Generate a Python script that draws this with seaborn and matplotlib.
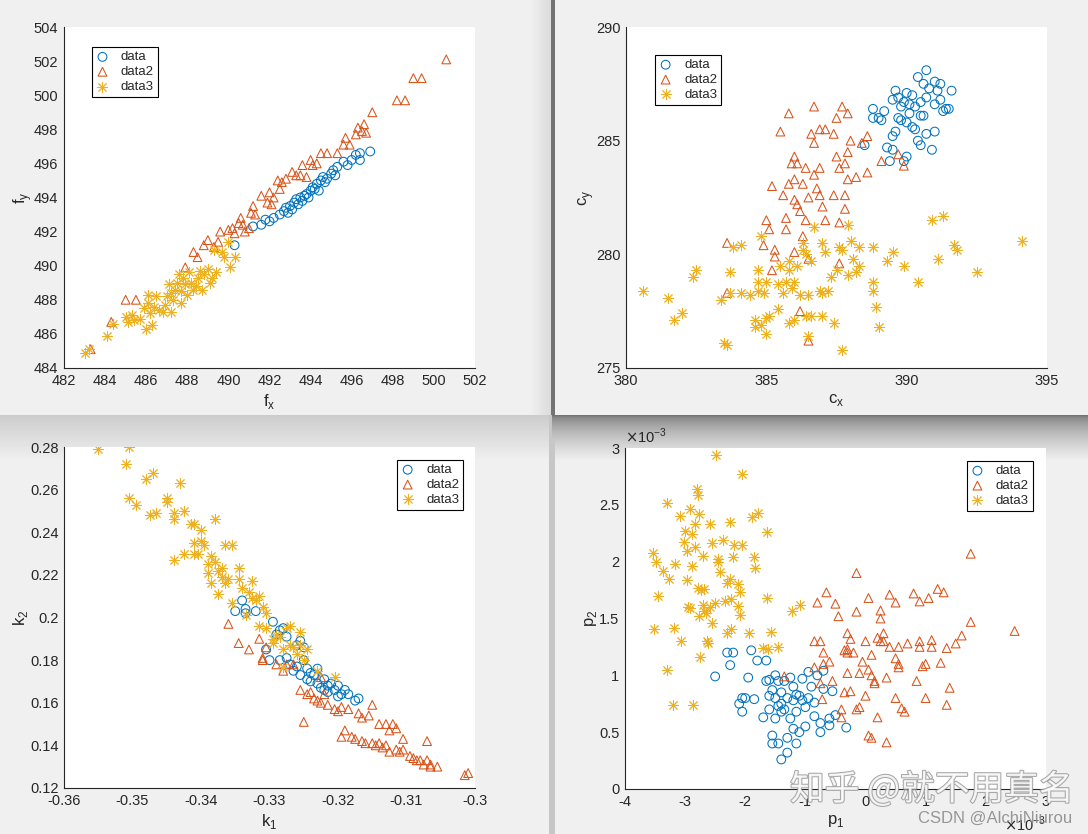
import numpy as np
import pandas as pd
import matplotlib
matplotlib.use("Agg")
import matplotlib.pyplot as plt
import matplotlib.patheffects as pe
from matplotlib.ticker import FuncFormatter, MultipleLocator
import seaborn as sns

# ---- panel 1: f_x / f_y
f1_x = [490.3, 491.2, 491.6, 491.8, 492.0, 492.2, 492.5, 492.7, 492.9, 493.0, 493.2, 493.3, 493.4,
        493.5, 493.6, 493.7, 493.8, 493.9, 494.0, 494.1, 494.2, 494.3, 494.4, 494.5, 494.6, 494.7,
        494.8, 495.0, 495.1, 495.2, 495.3, 495.6, 495.8, 496.0, 496.2, 496.4, 496.4, 496.9, 492.8, 493.1]
f1_y = [491.2, 492.3, 492.4, 492.7, 492.6, 492.8, 493.0, 493.2, 493.1, 493.5, 493.7, 493.9, 493.6,
        494.0, 493.8, 494.1, 494.2, 494.0, 494.4, 494.6, 494.5, 494.8, 494.4, 495.0, 495.2, 494.9,
        495.1, 495.4, 495.6, 495.3, 495.8, 496.1, 495.9, 496.2, 496.5, 496.6, 496.2, 496.7, 493.4, 493.3]
f2_x = [483.3, 484.3, 485.0, 485.5, 487.9, 488.3, 488.5, 488.8, 489.0, 489.3, 489.5, 489.6, 490.0,
        490.2, 490.3, 490.5, 490.6, 490.8, 491.0, 491.1, 491.3, 491.2, 491.6, 491.9, 492.0, 492.2,
        492.4, 492.5, 492.6, 492.8, 493.1, 493.3, 493.5, 493.6, 493.8, 494.0, 494.1, 494.3, 494.5,
        494.8, 495.3, 495.6, 495.7, 495.9, 496.2, 496.3, 496.5, 496.6, 496.7, 497.0, 498.2, 498.6,
        499.0, 499.4, 500.6, 492.1, 490.7]
f2_y = [485.1, 486.7, 488.0, 488.0, 489.9, 490.8, 490.5, 491.2, 491.5, 491.1, 491.4, 492.0, 492.1,
        492.2, 491.9, 492.5, 492.8, 492.0, 492.2, 493.1, 493.0, 493.5, 494.1, 493.7, 494.3, 494.0,
        495.0, 494.5, 494.9, 495.1, 495.5, 495.3, 495.3, 495.9, 495.2, 496.2, 495.9, 496.0, 496.6,
        496.6, 496.6, 497.1, 497.5, 497.1, 497.7, 498.1, 497.9, 498.3, 497.8, 499.0, 499.7, 499.7,
        501.0, 501.0, 502.1, 493.6, 492.4]
f3_x = [483.0, 483.2, 484.1, 484.4, 485.0, 485.1, 485.3, 485.4, 485.7, 485.9, 486.0, 486.1, 486.1,
        486.2, 486.3, 486.4, 486.5, 486.6, 486.8, 487.0, 487.1, 487.2, 487.2, 487.4, 487.5, 487.6,
        487.7, 487.7, 487.8, 487.9, 488.0, 488.1, 488.2, 488.3, 488.5, 488.7, 488.8, 489.0, 489.2,
        489.3, 489.4, 489.7, 489.8, 490.0, 490.1, 490.3, 488.6, 487.3, 486.9, 488.4, 489.1]
f3_y = [484.9, 485.1, 485.9, 486.6, 487.0, 486.7, 487.1, 486.8, 486.9, 487.5, 486.3, 487.8, 488.3,
        487.2, 486.5, 487.6, 488.2, 487.4, 487.3, 488.2, 488.9, 487.3, 488.4, 488.6, 489.0, 489.5,
        487.8, 488.5, 489.3, 488.9, 488.3, 489.6, 489.0, 488.6, 489.3, 488.6, 489.5, 489.8, 489.3,
        490.9, 489.6, 490.8, 490.5, 491.4, 489.9, 490.5, 489.7, 488.0, 487.7, 488.8, 489.0]

# ---- panel 2: c_x / c_y
c1_x = [388.5, 388.8, 388.8, 389.0, 389.1, 389.2, 389.3, 389.4, 389.5, 389.5, 389.6, 389.6, 389.7,
        389.8, 389.8, 389.9, 389.9, 390.0, 390.0, 390.0, 390.1, 390.2, 390.2, 390.3, 390.4, 390.4,
        390.5, 390.5, 390.6, 390.6, 390.7, 390.7, 390.7, 390.8, 390.9, 391.0, 391.0, 391.0, 391.1,
        391.2, 391.3, 391.4, 391.5, 391.6, 391.2, 390.1, 389.7, 390.3, 389.5, 390.5]
c1_y = [284.8, 286.4, 286.0, 286.0, 285.9, 286.3, 284.7, 284.1, 285.2, 286.8, 287.2, 285.4, 286.9,
        286.5, 285.9, 284.1, 286.7, 285.8, 287.1, 284.3, 286.2, 287.0, 285.6, 286.5, 285.0, 287.8,
        286.7, 284.8, 287.5, 286.1, 286.9, 285.3, 288.1, 287.3, 284.6, 286.6, 287.6, 285.4, 287.2,
        286.8, 286.3, 286.4, 286.4, 287.2, 287.5, 286.6, 286.0, 285.5, 284.6, 286.1]
c2_x = [383.6, 383.6, 384.9, 385.0, 385.1, 385.2, 385.3, 385.3, 385.2, 385.5, 385.6, 385.7, 385.7,
        385.8, 385.8, 385.9, 386.0, 386.0, 386.0, 386.0, 386.1, 386.2, 386.2, 386.3, 386.3, 386.4,
        386.4, 386.5, 386.5, 386.5, 386.6, 386.7, 386.7, 386.7, 386.8, 386.9, 386.9, 386.9, 387.0,
        387.1, 387.1, 387.4, 387.4, 387.5, 387.5, 387.6, 387.6, 387.6, 387.7, 387.8, 387.8, 387.8,
        387.9, 387.9, 387.9, 388.0, 388.2, 388.4, 388.6, 388.6, 389.1, 389.7, 389.9, 386.1]
c2_y = [280.5, 278.3, 280.4, 281.5, 281.1, 279.3, 280.2, 279.9, 283.0, 285.4, 282.6, 281.1, 281.6,
        286.2, 283.1, 284.0, 284.3, 282.4, 283.3, 280.1, 282.2, 281.9, 277.5, 283.1, 280.8, 283.8,
        281.5, 282.5, 279.8, 276.2, 285.3, 286.5, 284.9, 283.5, 282.9, 283.8, 285.5, 282.6, 282.1,
        285.5, 281.5, 282.6, 285.3, 286.0, 284.3, 281.4, 283.8, 279.6, 286.5, 284.0, 282.0, 282.6,
        284.5, 283.3, 286.2, 285.0, 283.4, 284.9, 283.6, 285.2, 284.1, 284.4, 283.9, 284.0]
c3_x = [380.6, 381.5, 381.7, 382.0, 382.4, 382.5, 383.4, 383.5, 383.6, 383.7, 383.7, 383.8, 384.1,
        384.1, 384.4, 384.6, 384.6, 384.7, 384.7, 384.7, 384.8, 384.8, 384.9, 385.0, 385.0, 385.1,
        385.0, 385.4, 385.4, 385.5, 385.6, 385.7, 385.8, 385.8, 385.8, 385.9, 386.0, 386.0, 386.1,
        386.2, 386.3, 386.4, 386.4, 386.5, 386.5, 386.6, 386.6, 386.7, 386.9, 387.0, 387.0, 387.1,
        387.0, 387.2, 387.3, 387.4, 387.5, 387.6, 387.7, 387.7, 387.9, 387.9, 388.0, 388.1, 388.2,
        388.3, 388.3, 388.8, 388.8, 388.8, 388.9, 389.0, 389.3, 389.5, 389.9, 390.4, 390.9, 391.1,
        391.3, 391.7, 391.8, 392.5, 394.1, 386.3]
c3_y = [278.4, 278.1, 277.1, 277.4, 279.0, 279.3, 278.0, 276.1, 276.0, 278.3, 279.2, 280.3, 280.4,
        278.3, 278.2, 277.1, 276.8, 279.3, 278.8, 278.4, 280.8, 276.9, 278.3, 277.2, 276.5, 277.3,
        278.8, 278.7, 277.6, 279.5, 278.3, 278.8, 279.7, 279.3, 277.0, 278.5, 278.8, 277.1, 279.5,
        278.2, 280.5, 280.0, 277.3, 278.2, 276.4, 277.3, 279.7, 281.2, 278.4, 280.5, 278.3, 280.1,
        277.3, 278.4, 279.0, 277.0, 279.3, 280.3, 275.8, 280.2, 281.3, 279.1, 280.6, 279.8, 279.2,
        280.3, 279.5, 280.3, 278.8, 278.4, 277.7, 276.8, 279.7, 280.1, 279.5, 278.8, 281.5, 279.8,
        281.7, 280.4, 280.2, 279.2, 280.6, 280.2]

# ---- panel 3: k_1 / k_2
k1_a = [-0.335, -0.334, -0.3335, -0.3335, -0.332, -0.3305, -0.330, -0.3295, -0.329, -0.3285, -0.328,
        -0.3275, -0.3275, -0.327, -0.3265, -0.326, -0.3255, -0.3255, -0.325, -0.325, -0.3245, -0.3245,
        -0.324, -0.324, -0.3235, -0.323, -0.323, -0.3225, -0.322, -0.3215, -0.3215, -0.321, -0.3205,
        -0.320, -0.320, -0.3195, -0.319, -0.3185, -0.3175, -0.317, -0.326, -0.3285, -0.322]
k2_a = [0.203, 0.208, 0.204, 0.202, 0.203, 0.185, 0.180, 0.198, 0.192, 0.180, 0.195, 0.191, 0.181,
        0.178, 0.175, 0.177, 0.189, 0.173, 0.186, 0.180, 0.176, 0.171, 0.174, 0.170, 0.173, 0.169,
        0.176, 0.167, 0.171, 0.168, 0.165, 0.169, 0.166, 0.163, 0.168, 0.164, 0.166, 0.164, 0.161,
        0.162, 0.187, 0.194, 0.166]
k1_b = [-0.336, -0.3345, -0.333, -0.3315, -0.331, -0.331, -0.3305, -0.329, -0.328, -0.3275, -0.3255,
        -0.325, -0.3245, -0.324, -0.3235, -0.323, -0.3225, -0.322, -0.3215, -0.3205, -0.320, -0.3195,
        -0.3195, -0.319, -0.3185, -0.318, -0.3175, -0.317, -0.3165, -0.3165, -0.316, -0.3155, -0.315,
        -0.315, -0.3145, -0.314, -0.314, -0.3135, -0.313, -0.313, -0.3125, -0.3125, -0.312, -0.3115,
        -0.3115, -0.311, -0.3105, -0.3105, -0.3095, -0.309, -0.3085, -0.308, -0.3075, -0.307, -0.307,
        -0.3065, -0.3065, -0.3055, -0.3015, -0.301, -0.3265, -0.3225]
k2_b = [0.197, 0.188, 0.185, 0.190, 0.180, 0.181, 0.186, 0.178, 0.175, 0.178, 0.166, 0.151, 0.164,
        0.165, 0.162, 0.161, 0.160, 0.164, 0.159, 0.157, 0.156, 0.158, 0.144, 0.147, 0.157, 0.144,
        0.143, 0.155, 0.142, 0.153, 0.141, 0.154, 0.141, 0.159, 0.140, 0.141, 0.150, 0.139, 0.150,
        0.140, 0.147, 0.137, 0.150, 0.148, 0.138, 0.137, 0.138, 0.143, 0.135, 0.134, 0.133, 0.133,
        0.131, 0.133, 0.142, 0.131, 0.130, 0.130, 0.126, 0.127, 0.178, 0.172]
k1_c = [-0.355, -0.351, -0.3505, -0.3505, -0.3495, -0.348, -0.3475, -0.347, -0.3465, -0.345, -0.345,
        -0.344, -0.344, -0.344, -0.343, -0.3425, -0.3425, -0.3415, -0.341, -0.341, -0.341, -0.3405,
        -0.340, -0.340, -0.3395, -0.339, -0.339, -0.3385, -0.3385, -0.338, -0.338, -0.3375, -0.3375,
        -0.337, -0.337, -0.336, -0.3365, -0.3355, -0.3355, -0.3345, -0.3345, -0.334, -0.3335, -0.333,
        -0.3325, -0.332, -0.3315, -0.331, -0.3315, -0.3305, -0.3305, -0.3295, -0.329, -0.3285, -0.328,
        -0.3275, -0.327, -0.327, -0.3265, -0.326, -0.3255, -0.3255, -0.325, -0.3245, -0.323, -0.3205,
        -0.328, -0.3295, -0.3325, -0.3365]
k2_c = [0.279, 0.272, 0.280, 0.256, 0.253, 0.265, 0.248, 0.268, 0.249, 0.256, 0.254, 0.246, 0.249,
        0.227, 0.263, 0.250, 0.230, 0.244, 0.235, 0.244, 0.230, 0.230, 0.236, 0.241, 0.234, 0.221,
        0.225, 0.229, 0.216, 0.246, 0.226, 0.222, 0.211, 0.219, 0.223, 0.218, 0.234, 0.234, 0.207,
        0.223, 0.218, 0.214, 0.201, 0.212, 0.217, 0.208, 0.210, 0.205, 0.196, 0.202, 0.195, 0.190,
        0.192, 0.191, 0.185, 0.195, 0.196, 0.187, 0.186, 0.183, 0.193, 0.187, 0.180, 0.185, 0.175,
        0.172, 0.177, 0.188, 0.209, 0.216]

# ---- panel 4: p_1 / p_2  (values in units of 1e-3)
p1_a = [-2.5, -2.3, -2.25, -2.2, -2.1, -2.05, -2.0, -2.05, -1.95, -1.9, -1.85, -1.8, -1.7, -1.65,
        -1.65, -1.6, -1.6, -1.55, -1.55, -1.55, -1.5, -1.5, -1.5, -1.45, -1.45, -1.45, -1.4, -1.4,
        -1.35, -1.3, -1.3, -1.3, -1.4, -1.25, -1.25, -1.2, -1.2, -1.15, -1.15, -1.15, -1.1, -1.05,
        -1.05, -1.0, -1.0, -0.95, -0.95, -0.9, -0.85, -0.85, -0.75, -0.75, -0.7, -0.7, -0.6, -0.6,
        -0.5, -0.55, -0.32, -0.8, -1.35, -1.2, -1.1, -1.6, -1.4]
p2_a = [0.99, 1.2, 1.09, 1.2, 0.75, 0.8, 0.8, 0.68, 0.98, 1.22, 0.79, 1.13, 0.63, 1.13, 0.95, 0.82,
        0.7, 0.4, 0.47, 0.87, 1.0, 0.62, 0.8, 0.73, 0.4, 0.95, 0.85, 0.75, 0.7, 0.45, 0.8, 0.32,
        0.26, 0.98, 0.62, 0.9, 0.53, 0.4, 0.68, 0.83, 0.5, 0.78, 0.97, 0.72, 0.55, 1.03, 0.8, 0.9,
        0.64, 0.76, 0.58, 0.5, 1.04, 0.88, 0.56, 0.62, 0.65, 0.86, 0.54, 1.0, 0.95, 0.78, 0.82,
        0.96, 0.68]
p1_b = [-1.35, -0.85, -0.85, -0.8, -0.75, -0.75, -0.72, -0.7, -0.7, -0.65, -0.6, -0.55, -0.5, -0.45,
        -0.4, -0.4, -0.35, -0.3, -0.3, -0.3, -0.25, -0.25, -0.2, -0.15, -0.15, -0.15, -0.1, -0.05,
        0.0, 0.0, 0.05, 0.05, 0.05, 0.1, 0.1, 0.15, 0.15, 0.2, 0.2, 0.25, 0.25, 0.25, 0.3, 0.35,
        0.35, 0.4, 0.4, 0.5, 0.5, 0.5, 0.55, 0.55, 0.55, 0.6, 0.65, 0.7, 0.8, 0.85, 0.9, 0.9, 0.9,
        0.95, 1.0, 1.0, 1.05, 1.1, 1.1, 1.2, 1.25, 1.3, 1.35, 1.35, 1.4, 1.5, 1.6, 1.75, 1.75, 2.48,
        -0.35, -0.3, 0.1, 0.3, -0.1]
p2_b = [0.99, 1.3, 1.07, 1.64, 1.3, 0.93, 0.79, 1.2, 1.1, 1.73, 1.12, 0.95, 1.63, 1.52, 0.7, 0.63,
        0.85, 1.37, 1.2, 1.02, 1.32, 0.86, 1.2, 1.56, 0.7, 1.9, 1.02, 1.12, 1.3, 0.82, 1.05, 1.68,
        0.47, 0.45, 1.0, 0.93, 0.95, 1.33, 0.63, 1.57, 1.5, 1.3, 1.37, 0.98, 0.41, 1.71, 1.25, 1.64,
        1.15, 0.8, 1.1, 1.25, 1.07, 0.71, 0.68, 1.28, 1.72, 0.95, 1.25, 1.65, 1.3, 1.08, 1.1, 0.8,
        1.68, 1.31, 1.25, 1.76, 1.11, 1.73, 1.24, 0.74, 0.89, 1.28, 1.35, 2.07, 1.47, 1.39,
        1.22, 1.23, 1.18, 1.3, 0.72]
p1_c = [-2.49, -2.06, -3.53, -3.30, -2.81, -1.79, -1.63, -1.09, -1.22, -1.45, -1.62, -1.70, -1.57,
        -1.93, -2.24, -1.64, -1.85, -1.83, -1.89, -2.87, -3.20, -3.30, -2.75, -3.52, -3.18, -3.07,
        -3.45, -3.49, -3.37, -3.26, -3.16, -3.09, -2.91, -3.01, -3.00, -2.25, -2.05, -2.18, -2.37,
        -2.59, -2.55, -2.46, -2.42, -2.20, -2.26, -2.12, -2.31, -2.08, -2.12, -2.09, -2.24, -2.50,
        -2.56, -2.65, -2.59, -2.69, -2.79, -2.70, -2.92, -2.77, -2.64, -2.31, -2.97, -2.89, -2.83,
        -2.97, -2.71, -2.77, -2.88, -2.83, -2.62, -2.68, -2.45, -2.33, -2.95, -2.73, -2.78]
p2_c = [2.94, 2.77, 2.08, 2.52, 2.64, 2.43, 2.26, 1.62, 1.57, 1.25, 1.23, 1.24, 1.38, 1.37, 1.41,
        1.68, 2.04, 1.94, 2.39, 0.74, 0.74, 1.05, 1.16, 1.41, 1.42, 1.30, 1.70, 2.00, 1.92, 1.85,
        1.98, 2.40, 2.46, 2.17, 2.27, 2.35, 2.15, 2.15, 2.19, 2.33, 2.16, 2.00, 1.91, 2.04, 1.85,
        1.80, 1.81, 1.73, 1.61, 1.53, 1.67, 1.64, 1.46, 1.55, 1.60, 1.76, 1.77, 1.62, 1.59, 1.52,
        1.30, 1.37, 1.84, 1.96, 2.13, 2.09, 2.05, 2.42, 2.24, 2.33, 1.28, 1.57, 2.02, 1.65, 1.60,
        1.75, 2.59]

names = ["data", "data2", "data3"]
colors = ["#0072BD", "#D95319", "#EDB120"]

sns.set_theme(style="white")
plt.rcParams["font.family"] = ["Liberation Sans", "DejaVu Sans"]
plt.rcParams["axes.unicode_minus"] = False
plt.rcParams["xtick.direction"] = "in"
plt.rcParams["ytick.direction"] = "in"

W, H = 1088, 834
fig = plt.figure(figsize=(W / 100, H / 100), dpi=100)
fig.patch.set_facecolor("#f0f0f0")

# screenshot background: four grey panels with a shadowed seam
bg = np.full((H, W), 0.94)
bg[:415, 530:551] = np.linspace(0.94, 0.86, 21)
bg[:415, 551:555] = 0.45
for i in range(45):
    t = i / 45.0
    bg[415 + i, :552] = 0.80 + (0.94 - 0.80) * t
    bg[415 + i, 552:] = 0.45 + (0.94 - 0.45) * t ** 0.6
bg[415:, 549:555] = np.minimum(bg[415:, 549:555], 0.78)
bax = fig.add_axes([0, 0, 1, 1], zorder=-5)
bax.imshow(bg, cmap="gray", vmin=0, vmax=1, aspect="auto", interpolation="bilinear")
bax.axis("off")


def panel(rect, xs, ys, xlab, ylab, xlim, ylim, xstep, ystep, leg_anchor, leg_loc, scale=1.0):
    ax = fig.add_axes(rect)
    ax.set_facecolor("white")
    markers = ["o", "^", (8, 2, 0)]
    for x, y, name, col, m in zip(xs, ys, names, colors, markers):
        df = pd.DataFrame({"x": np.array(x) * scale, "y": np.array(y) * scale})
        if m == (8, 2, 0):
            sns.scatterplot(data=df, x="x", y="y", ax=ax, marker=m, s=55, color=col,
                            linewidth=0.7, label=name)
        else:
            sns.scatterplot(data=df, x="x", y="y", ax=ax, marker=m, s=40, facecolor="none",
                            edgecolor=col, linewidth=0.75, label=name)
    ax.set_xlim(xlim)
    ax.set_ylim(ylim)
    ax.xaxis.set_major_locator(MultipleLocator(xstep * scale))
    ax.yaxis.set_major_locator(MultipleLocator(ystep * scale))
    fmt = FuncFormatter(lambda v, _: "%g" % round(v / scale, 6))
    ax.xaxis.set_major_formatter(fmt)
    ax.yaxis.set_major_formatter(fmt)
    for s in ["top", "right"]:
        ax.spines[s].set_visible(False)
    for s in ["left", "bottom"]:
        ax.spines[s].set_color("#262626")
        ax.spines[s].set_linewidth(0.8)
    ax.tick_params(axis="both", length=4, width=0.8, colors="#262626", labelsize=10.5, pad=4)
    ax.set_xlabel(xlab, fontsize=12, color="#262626", labelpad=3)
    ax.set_ylabel(ylab, fontsize=12, color="#262626", labelpad=0)
    leg = ax.legend(loc=leg_loc, bbox_to_anchor=leg_anchor, fontsize=9.5, frameon=True,
                    fancybox=False, framealpha=1, edgecolor="black", handlelength=1.0,
                    handletextpad=0.9, borderpad=0.3, labelspacing=0.2, borderaxespad=0)
    leg.get_frame().set_linewidth(0.8)
    return ax


panel([0.0588, 0.5588, 0.3778, 0.4088], [f1_x, f2_x, f3_x], [f1_y, f2_y, f3_y],
      r"f$_\mathregular{x}$", r"f$_\mathregular{y}$", (482, 502), (484, 504), 2, 2,
      (0.068, 0.941), "upper left")
panel([0.5754, 0.5588, 0.3869, 0.4088], [c1_x, c2_x, c3_x], [c1_y, c2_y, c3_y],
      r"c$_\mathregular{x}$", r"c$_\mathregular{y}$", (380, 395), (275, 290), 5, 5,
      (0.069, 0.918), "upper left")
panel([0.0588, 0.0552, 0.3778, 0.4088], [k1_a, k1_b, k1_c], [k2_a, k2_b, k2_c],
      r"k$_\mathregular{1}$", r"k$_\mathregular{2}$", (-0.36, -0.30), (0.12, 0.28), 0.01, 0.02,
      (0.971, 0.962), "upper right")
ax4 = panel([0.5744, 0.0540, 0.3869, 0.4088], [p1_a, p1_b, p1_c], [p2_a, p2_b, p2_c],
            r"p$_\mathregular{1}$", r"p$_\mathregular{2}$", (-4e-3, 3e-3), (0, 3e-3), 1, 0.5,
            (0.969, 0.962), "upper right", scale=1e-3)
ax4.text(0.0, 1.005, r"$\times$10$^\mathregular{-3}$", transform=ax4.transAxes, ha="left",
         va="bottom", fontsize=10.5, color="#262626")
ax4.text(1.0, -0.075, r"$\times$10$^\mathregular{-3}$", transform=ax4.transAxes, ha="right",
         va="top", fontsize=10.5, color="#262626")

# watermarks
fig.text(790 / W, 1 - 790 / H, "知乎 @就不用真名", fontsize=25, color="white", alpha=0.85,
         ha="left", va="center", family=["Noto Sans CJK SC", "DejaVu Sans"],
         path_effects=[pe.withStroke(linewidth=1.5, foreground="#9a9a9a")])
fig.text(918 / W, 1 - 818 / H, "CSDN @AlchiNiurou", fontsize=12, color="#8c8c8c", alpha=0.9,
         ha="left", va="center")

fig.savefig("out.png", dpi=100, facecolor=fig.get_facecolor())
